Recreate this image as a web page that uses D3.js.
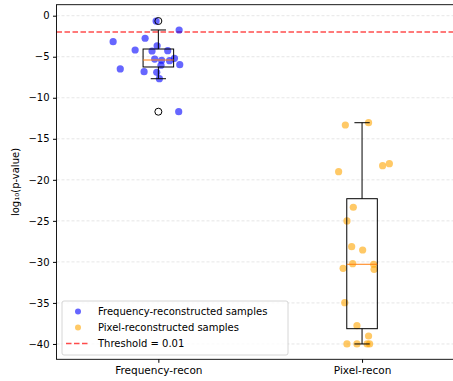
<!DOCTYPE html>
<html>
<head>
<meta charset="utf-8">
<script src="https://cdn.jsdelivr.net/npm/d3@7/dist/d3.min.js"></script>
<style>
  body { margin: 0; background: #fff; }
  svg { display: block; font-family: "DejaVu Sans", sans-serif; }
</style>
</head>
<body>
<svg id="chart" width="453" height="381"></svg>
<script>
const categories = ['Frequency-recon', 'Pixel-recon'];
const yTicks = [0, -5, -10, -15, -20, -25, -30, -35, -40];
const threshold = -2; // log10(0.01)

// samples: jitter offset (category units) and log10 p-value
const freqJitter = [-0.011, 0.102, -0.222, -0.065, -0.114, -0.006, -0.031, 0.046, -0.018, 0.016,
  0.055, 0.079, 0.105, 0.013, -0.187, -0.070, -0.008, 0.005, 0.100];
const freqValues = [-0.65, -1.74, -3.17, -2.75, -4.18, -3.66, -4.30, -4.26, -5.28, -5.43,
  -5.48, -5.19, -5.97, -6.04, -6.49, -6.82, -6.90, -7.68, -11.70];

const pixelJitter = [-0.082, 0.032, -0.115, 0.101, 0.134, -0.043, -0.074, -0.051, 0.003, -0.046,
  -0.093, 0.057, 0.059, -0.085, -0.025, 0.032, -0.074, -0.025, 0.025, 0.037];
const pixelValues = [-13.32, -13.04, -19.01, -18.28, -18.03, -23.34, -25.01, -28.15, -28.55, -30.22,
  -30.78, -30.29, -30.90, -34.97, -37.77, -39.03, -40.0, -40.0, -40.0, -40.0];

// box stats
const boxQ1 = [-6.25, -38.14];
const boxMedian = [-5.40, -30.29];
const boxQ3 = [-4.06, -22.30];
const whiskerLow = [-7.68, -40.0];
const whiskerHigh = [-1.74, -13.04];
const fliers = [[-0.65, -11.70], []];

const margin = { top: 4.7, left: 56.5, bottom: 21.7 };
const width = 453, height = 381;
const font = '"DejaVu Sans", sans-serif';
const svg = d3.select('#chart');

const x = d3.scaleLinear().domain([0.5, 2.5]).range([margin.left, margin.left + 407.4]);
const y = d3.scaleLinear().domain([1.34, -41.87]).range([margin.top, height - margin.bottom]);

const g = svg.append('g');

// grid
g.selectAll('.grid')
  .data(yTicks)
  .enter()
  .append('line')
  .attr('x1', x(0.5))
  .attr('x2', width)
  .attr('y1', (d) => y(d))
  .attr('y2', (d) => y(d))
  .attr('stroke', '#b0b0b0')
  .attr('stroke-opacity', 0.4)
  .attr('stroke-width', 0.8)
  .attr('stroke-dasharray', '3,2');

// threshold
g.append('line')
  .attr('x1', x(0.5))
  .attr('x2', width)
  .attr('y1', y(threshold))
  .attr('y2', y(threshold))
  .attr('stroke', '#ff0000')
  .attr('stroke-opacity', 0.7)
  .attr('stroke-width', 1.5)
  .attr('stroke-dasharray', '5.5,2.5');

// points
const groups = [
  { jitter: freqJitter, values: freqValues, color: 'rgb(0,0,255)' },
  { jitter: pixelJitter, values: pixelValues, color: 'rgb(255,165,0)' }
];
groups.forEach((grp, i) => {
  g.selectAll('.pt' + i)
    .data(grp.values)
    .enter()
    .append('circle')
    .attr('cx', (d, j) => x(i + 1 + grp.jitter[j]))
    .attr('cy', (d) => y(d))
    .attr('r', 3.6)
    .attr('fill', grp.color)
    .attr('fill-opacity', 0.6);
});

// boxes
const boxW = 0.15;
categories.forEach((c, i) => {
  const cx = i + 1;
  const bg = g.append('g').attr('fill', 'none').attr('stroke', 'black').attr('stroke-width', 1);
  bg.append('rect')
    .attr('x', x(cx - boxW / 2))
    .attr('y', y(boxQ3[i]))
    .attr('width', x(cx + boxW / 2) - x(cx - boxW / 2))
    .attr('height', y(boxQ1[i]) - y(boxQ3[i]));
  bg.append('line')
    .attr('x1', x(cx)).attr('x2', x(cx))
    .attr('y1', y(boxQ3[i])).attr('y2', y(whiskerHigh[i]));
  bg.append('line')
    .attr('x1', x(cx)).attr('x2', x(cx))
    .attr('y1', y(boxQ1[i])).attr('y2', y(whiskerLow[i]));
  [whiskerHigh[i], whiskerLow[i]].forEach((w) => {
    bg.append('line')
      .attr('x1', x(cx - boxW / 4)).attr('x2', x(cx + boxW / 4))
      .attr('y1', y(w)).attr('y2', y(w));
  });
  bg.append('line')
    .attr('x1', x(cx - boxW / 2)).attr('x2', x(cx + boxW / 2))
    .attr('y1', y(boxMedian[i])).attr('y2', y(boxMedian[i]))
    .attr('stroke', '#ff7f0e');
  bg.selectAll('.flier')
    .data(fliers[i])
    .enter()
    .append('circle')
    .attr('cx', x(cx))
    .attr('cy', (d) => y(d))
    .attr('r', 3.5);
});

// axes
const yAxis = d3.axisLeft(y)
  .tickValues(yTicks)
  .tickSize(3.5)
  .tickPadding(3.5)
  .tickFormat((d) => (d < 0 ? '\u2212' + Math.abs(d) : d));
const ya = svg.append('g')
  .attr('transform', `translate(${margin.left},0)`)
  .call(yAxis)
  .attr('font-family', font)
  .attr('font-size', 10);
ya.select('.domain').remove();
ya.selectAll('text').attr('fill', '#000');

const xAxis = d3.axisBottom(x)
  .tickValues([1, 2])
  .tickSize(3.5)
  .tickPadding(3.5)
  .tickFormat((d) => categories[d - 1]);
const xa = svg.append('g')
  .attr('transform', `translate(0,${height - margin.bottom})`)
  .call(xAxis)
  .attr('font-family', font)
  .attr('font-size', 10.5);
xa.select('.domain').remove();
xa.selectAll('text').attr('fill', '#000');

// spines
svg.append('rect')
  .attr('x', margin.left)
  .attr('y', margin.top)
  .attr('width', 500)
  .attr('height', height - margin.bottom - margin.top)
  .attr('fill', 'none')
  .attr('stroke', '#000')
  .attr('stroke-width', 0.9);

// y label
svg.append('text')
  .attr('transform', `translate(19,${(margin.top + height - margin.bottom) / 2}) rotate(-90)`)
  .attr('text-anchor', 'middle')
  .attr('font-size', 10)
  .text('log\u2081\u2080(p-value)');

// legend
const legend = svg.append('g').attr('transform', 'translate(62,301)');
legend.append('rect')
  .attr('width', 226)
  .attr('height', 54)
  .attr('rx', 2)
  .attr('fill', '#fff')
  .attr('fill-opacity', 0.8)
  .attr('stroke', '#ccc')
  .attr('stroke-width', 0.8);
const legendItems = [
  { label: 'Frequency-reconstructed samples', color: 'rgb(0,0,255)', type: 'dot' },
  { label: 'Pixel-reconstructed samples', color: 'rgb(255,165,0)', type: 'dot' },
  { label: 'Threshold = 0.01', color: '#ff0000', type: 'line' }
];
legendItems.forEach((it, i) => {
  const ly = 10.5 + i * 16;
  if (it.type === 'dot') {
    legend.append('circle')
      .attr('cx', 16)
      .attr('cy', ly)
      .attr('r', 3)
      .attr('fill', it.color)
      .attr('fill-opacity', 0.6);
  } else {
    legend.append('line')
      .attr('x1', 4).attr('x2', 26)
      .attr('y1', ly).attr('y2', ly)
      .attr('stroke', it.color)
      .attr('stroke-opacity', 0.7)
      .attr('stroke-width', 1.5)
      .attr('stroke-dasharray', '5.5,2.5');
  }
  legend.append('text')
    .attr('x', 36)
    .attr('y', ly)
    .attr('dy', '0.35em')
    .attr('font-size', 10)
    .text(it.label);
});
</script>
</body>
</html>
